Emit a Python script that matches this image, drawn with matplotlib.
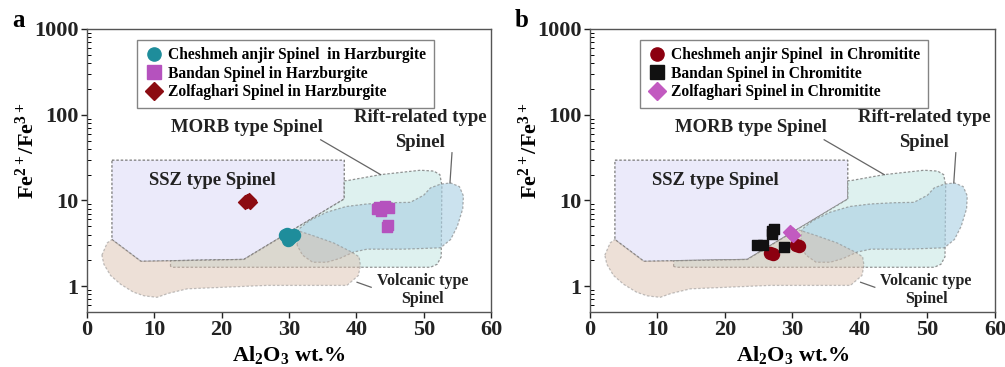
import matplotlib
matplotlib.use("Agg")
import matplotlib.pyplot as plt
from matplotlib.patches import Polygon
from matplotlib.lines import Line2D

plt.rcParams['font.family'] = ['Liberation Serif', 'DejaVu Serif']
plt.rcParams['font.weight'] = 'bold'
plt.rcParams['axes.labelweight'] = 'bold'
plt.rcParams['mathtext.fontset'] = 'custom'
plt.rcParams['mathtext.rm'] = 'Liberation Serif:bold'
plt.rcParams['mathtext.it'] = 'Liberation Serif:bold'
plt.rcParams['mathtext.bf'] = 'Liberation Serif:bold'
plt.rcParams['mathtext.default'] = 'rm'

# field outlines (Al2O3, Fe2+/Fe3+)
ssz_x = [3.7, 38.2, 38.2, 23.3, 8.0, 3.7]
ssz_y = [29.5, 29.5, 10.4, 2.05, 1.95, 3.5]

morb_x = [12.4, 12.4, 23.3, 38.2, 38.2, 38.6, 43.6, 49.5, 51.5, 52.4, 52.7, 52.6, 52.0, 51.0, 12.8]
morb_y = [1.7, 1.98, 2.05, 10.4, 17.0, 17.0, 20.0, 22.5, 22.0, 20.0, 15.0, 2.2, 1.8, 1.66, 1.66]

rift_x = [31.2, 31.4, 33.0, 35.6, 38.5, 41.6, 45.0, 48.0, 50.0, 51.0, 52.5, 54.0, 55.3, 55.9,
          55.8, 55.0, 54.0, 52.5, 47.0, 41.6, 39.6, 37.5, 35.6, 33.5, 32.0]
rift_y = [3.0, 4.6, 5.8, 7.3, 8.5, 9.1, 9.4, 9.5, 11.5, 14.0, 15.5, 16.0, 14.5, 11.3,
          8.0, 5.0, 3.5, 2.8, 2.7, 2.7, 2.5, 2.1, 1.9, 1.9, 2.3]

volc_x = [2.2, 3.0, 3.7, 8.0, 23.3, 30.7, 33.5, 36.6, 39.3, 40.4, 40.6, 40.3, 38.6, 26.7,
          14.9, 12.0, 10.4, 8.5, 6.9, 5.0, 3.5, 2.5]
volc_y = [2.3, 3.2, 3.5, 1.95, 2.05, 4.6, 3.9, 3.2, 2.5, 2.2, 1.74, 1.33, 1.02, 1.02,
          0.93, 0.82, 0.74, 0.77, 0.85, 1.05, 1.33, 1.8]

# panel a: harzburgite spinels
a_chesh_x = [29.4, 29.9, 30.5, 29.7, 30.8, 30.1]
a_chesh_y = [3.9, 3.5, 3.8, 4.1, 3.9, 3.6]
a_bandan_x = [43.0, 43.6, 44.3, 44.8, 43.3, 44.5, 44.7]
a_bandan_y = [8.0, 7.6, 8.6, 8.1, 8.3, 4.9, 5.1]
a_zolf_x = [23.5, 24.0, 24.2, 23.7]
a_zolf_y = [9.5, 10.0, 9.6, 9.9]

# panel b: chromitite spinels
b_chesh_x = [26.7, 27.1, 30.6, 31.0]
b_chesh_y = [2.45, 2.4, 3.0, 2.95]
b_bandan_x = [26.9, 27.3, 24.7, 25.7, 28.7, 27.0]
b_bandan_y = [4.4, 4.7, 3.0, 3.0, 2.9, 4.1]
b_zolf_x = [29.9, 29.7, 30.1]
b_zolf_y = [4.1, 4.3, 3.9]

fig = plt.figure(figsize=(10.05, 3.67), dpi=100)
ax_a = fig.add_axes([0.0866, 0.150, 0.402, 0.771])
ax_b = fig.add_axes([0.587, 0.150, 0.403, 0.771])

edge = '#7a7a7a'
dash = (0, (2.0, 1.5))


def draw_fields(ax):
    ax.add_patch(Polygon(list(zip(ssz_x, ssz_y)), closed=True, fc='#ebeafa', ec=edge,
                         ls=dash, lw=0.9, zorder=1))
    ax.add_patch(Polygon(list(zip(morb_x, morb_y)), closed=True, fc='#d6eeec', ec=edge,
                         ls=dash, lw=0.9, alpha=0.8, zorder=2))
    ax.add_patch(Polygon(list(zip(rift_x, rift_y)), closed=True, fc='#a9cfe3', ec=edge,
                         ls=dash, lw=0.9, alpha=0.6, zorder=3))
    ax.add_patch(Polygon(list(zip(volc_x, volc_y)), closed=True, fc='#d9bba8', ec=edge,
                         ls=dash, lw=0.9, alpha=0.45, zorder=4))
    ax.text(18.6, 17, 'SSZ type Spinel', fontsize=13.5, ha='center', va='center', color='#222')
    ax.text(23.8, 70, 'MORB type Spinel', fontsize=13.5, ha='center', va='center', color='#222')
    ax.plot([34.7, 43.6], [51, 20], color='#666', lw=0.9, zorder=5)
    ax.text(49.5, 92, 'Rift-related type', fontsize=13.5, ha='center', va='center', color='#222')
    ax.text(49.5, 48, 'Spinel', fontsize=13.5, ha='center', va='center', color='#222')
    ax.plot([54.2, 53.9], [36, 16], color='#666', lw=0.9, zorder=5)
    ax.text(49.8, 1.16, 'Volcanic type', fontsize=11.5, ha='center', va='center', color='#222')
    ax.text(49.8, 0.71, 'Spinel', fontsize=11.5, ha='center', va='center', color='#222')
    ax.plot([40.1, 42.2], [1.11, 0.97], color='#666', lw=0.9, zorder=5)


def style_axes(ax):
    ax.set_yscale('log')
    ax.set_xlim(0, 60)
    ax.set_ylim(0.5, 1000)
    ax.set_xticks([0, 10, 20, 30, 40, 50, 60])
    ax.set_yticks([1, 10, 100, 1000])
    ax.set_yticklabels(['1', '10', '100', '1000'])
    ax.tick_params(axis='both', labelsize=16, direction='out', length=4, width=1,
                   colors='#222', pad=2)
    ax.tick_params(axis='y', which='minor', direction='in', length=3, width=0.7)
    for s in ax.spines.values():
        s.set_color('#555')
        s.set_linewidth(1.0)
    ax.set_xlabel('Al$_2$O$_3$ wt.%', fontsize=16, labelpad=3)
    ax.set_ylabel('Fe$^{2+}$/Fe$^{3+}$', fontsize=16)
    ax.yaxis.set_label_coords(-0.119, 0.57)


def add_legend(ax, items):
    handles = [Line2D([], [], ls='none', marker=m, color=c, markersize=9.5, label=l)
               for m, c, l in items]
    leg = ax.legend(handles=handles, loc='upper left', bbox_to_anchor=(0.105, 0.99),
                    fontsize=11.2, frameon=True, fancybox=False, edgecolor='#666',
                    handletextpad=0.3, borderpad=0.5, labelspacing=0.15,
                    handlelength=1.2)
    leg.get_frame().set_linewidth(1.0)


for ax in (ax_a, ax_b):
    draw_fields(ax)
    style_axes(ax)

ax_a.scatter(a_chesh_x, a_chesh_y, marker='o', s=75, color='#1e8d9b', zorder=6)
ax_a.scatter(a_bandan_x, a_bandan_y, marker='s', s=60, color='#b552be', zorder=6)
ax_a.scatter(a_zolf_x, a_zolf_y, marker='D', s=50, color='#8c0c12', zorder=6)
add_legend(ax_a, [('o', '#1e8d9b', 'Cheshmeh anjir Spinel  in Harzburgite'),
                  ('s', '#b552be', 'Bandan Spinel in Harzburgite'),
                  ('D', '#8c0c12', 'Zolfaghari Spinel in Harzburgite')])

ax_b.scatter(b_chesh_x, b_chesh_y, marker='o', s=75, color='#8c0010', zorder=6)
ax_b.scatter(b_bandan_x, b_bandan_y, marker='s', s=60, color='#111111', zorder=6)
ax_b.scatter(b_zolf_x, b_zolf_y, marker='D', s=50, color='#c25ac0', zorder=6)
add_legend(ax_b, [('o', '#8c0010', 'Cheshmeh anjir Spinel  in Chromitite'),
                  ('s', '#111111', 'Bandan Spinel in Chromitite'),
                  ('D', '#c25ac0', 'Zolfaghari Spinel in Chromitite')])

fig.text(0.012, 0.945, 'a', fontsize=18, fontweight='bold', va='center')
fig.text(0.512, 0.945, 'b', fontsize=18, fontweight='bold', va='center')

fig.savefig('out.png', dpi=100)
